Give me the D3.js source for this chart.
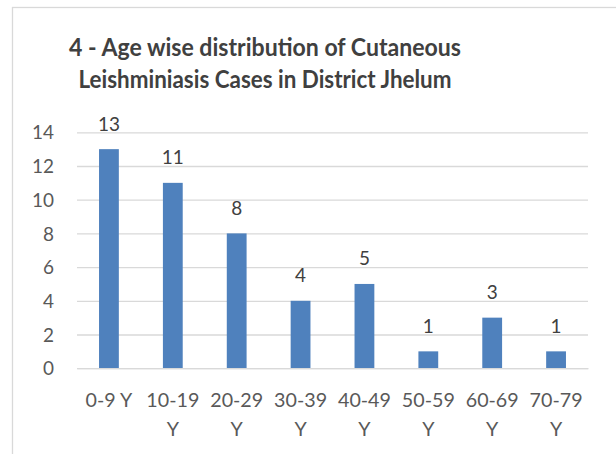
<!DOCTYPE html>
<html>
<head>
<meta charset="utf-8">
<script src="https://cdn.jsdelivr.net/npm/d3@7"></script>
<style>
  html, body { margin: 0; padding: 0; background: #fff; }
  svg { display: block; }
  text { font-family: Lato, "Open Sans", sans-serif; }
</style>
</head>
<body>
<svg id="chart" width="616" height="454"></svg>
<script>
const titleLines = ["4 - Age wise distribution of Cutaneous", "Leishminiasis Cases in District Jhelum"];
const categories = ["0-9 Y", "10-19 Y", "20-29 Y", "30-39 Y", "40-49 Y", "50-59 Y", "60-69 Y", "70-79 Y"];
const cases = [13, 11, 8, 4, 5, 1, 3, 1];
const yTicks = [0, 2, 4, 6, 8, 10, 12, 14];

const svg = d3.select("#chart");

// outer border (cropped at right/bottom)
svg.append("rect")
  .attr("x", 12.5).attr("y", 7.5)
  .attr("width", 700).attr("height", 700)
  .attr("fill", "#fff").attr("stroke", "#d9d9d9").attr("stroke-width", 1.3);

const x = d3.scaleBand().domain(categories).range([77, 588]).paddingInner(0.69).paddingOuter(0.345);
const y = d3.scaleLinear().domain([0, 14]).range([368.2, 132.3]);

function fitSize(str, weight, targetW, base) {
  const t = svg.append("text").attr("font-size", base).attr("font-weight", weight).text(str);
  const w = t.node().getComputedTextLength();
  t.remove();
  return base * targetW / w;
}

// Title (Calibri-like narrow proportions via textLength)
const titleWidths = [392, 373];
const title = svg.append("text")
  .attr("text-anchor", "middle")
  .attr("font-weight", "bold")
  .attr("font-size", 24)
  .attr("fill", "#404040");
title.selectAll("tspan").data(titleLines).join("tspan")
  .attr("x", 265)
  .attr("y", (d, i) => 55.5 + i * 32.3)
  .attr("textLength", (d, i) => titleWidths[i])
  .attr("lengthAdjust", "spacingAndGlyphs")
  .text(d => d);

// gridlines + y ticks
const tickSize = Math.min(21, fitSize("14", "normal", 22, 20));
svg.append("g")
  .attr("transform", "translate(77,0)")
  .call(d3.axisLeft(y).tickValues(yTicks).tickSize(-(588 - 77)).tickPadding(23))
  .call(g => g.select(".domain").remove())
  .call(g => g.selectAll(".tick line").attr("stroke", "#d9d9d9").attr("stroke-width", 1.3))
  .call(g => g.selectAll(".tick text")
    .attr("fill", "#595959")
    .attr("font-size", tickSize)
    .attr("font-family", "Lato, 'Open Sans', sans-serif")
    .attr("dy", "0.35em"));

// bars
svg.append("g").selectAll("rect").data(cases).join("rect")
  .attr("x", (d, i) => x(categories[i]))
  .attr("width", x.bandwidth())
  .attr("y", d => y(d))
  .attr("height", d => y(0) - y(d))
  .attr("fill", "#4f81bd");

// data labels
svg.append("g").selectAll("text").data(cases).join("text")
  .attr("x", (d, i) => x(categories[i]) + x.bandwidth() / 2)
  .attr("y", d => y(d) - 18.5)
  .attr("text-anchor", "middle")
  .attr("font-size", tickSize)
  .attr("fill", "#404040")
  .text(d => d);

// x axis labels
const xSize = Math.min(21, fitSize("70-79", "normal", 53, 20));
const step = x.step();
const xAxis = svg.append("g")
  .attr("transform", "translate(0,368.2)")
  .call(d3.axisBottom(x).tickSize(0).tickFormat(""))
  .call(g => g.select(".domain").attr("stroke", "#d9d9d9").attr("stroke-width", 1.3));

xAxis.selectAll(".tick").each(function(cat) {
  const g = d3.select(this);
  const t = g.append("text")
    .attr("text-anchor", "middle")
    .attr("fill", "#595959")
    .attr("font-size", xSize);
  t.text(cat);
  const full = t.node().getComputedTextLength();
  let lines = [cat];
  if (full > step - 4) {
    const parts = cat.split(" ");
    lines = [parts.slice(0, -1).join(" "), parts[parts.length - 1]];
  }
  t.text(null);
  t.selectAll("tspan").data(lines).join("tspan")
    .attr("x", 0)
    .attr("y", (d, i) => 38.5 + i * 29)
    .text(d => d);
});
</script>
</body>
</html>
